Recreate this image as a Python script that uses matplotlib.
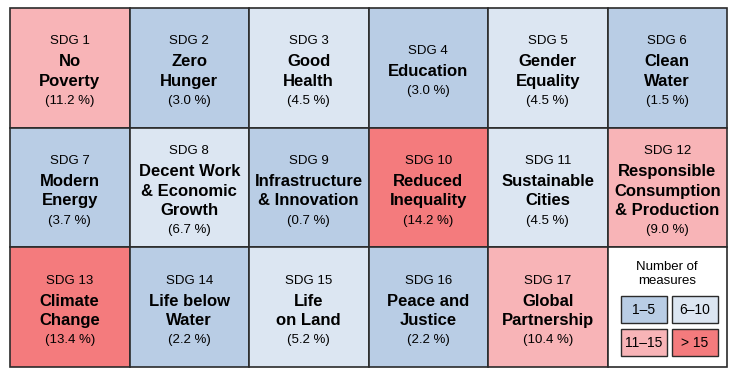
"""SDG measures grid: share of measures per Sustainable Development Goal."""
import matplotlib.pyplot as plt
from matplotlib.patches import Rectangle

plt.rcParams["font.family"] = ["Liberation Sans", "DejaVu Sans"]

SDG_NUMBERS = list(range(1, 18))
SDG_TITLES = [
    "No\nPoverty", "Zero\nHunger", "Good\nHealth", "Education",
    "Gender\nEquality", "Clean\nWater", "Modern\nEnergy",
    "Decent Work\n& Economic\nGrowth", "Infrastructure\n& Innovation",
    "Reduced\nInequality", "Sustainable\nCities",
    "Responsible\nConsumption\n& Production", "Climate\nChange",
    "Life below\nWater", "Life\non Land", "Peace and\nJustice", "Global\nPartnership",
]
MEASURES = [15, 4, 6, 4, 6, 2, 5, 9, 1, 19, 6, 12, 18, 3, 7, 3, 14]
PERCENT = [11.2, 3.0, 4.5, 3.0, 4.5, 1.5, 3.7, 6.7, 0.7, 14.2, 4.5, 9.0,
           13.4, 2.2, 5.2, 2.2, 10.4]

BIN_LABELS = ["1–5", "6–10", "11–15", "> 15"]
BIN_UPPER = [5, 10, 15, 999]
BIN_COLORS = ["#b9cde5", "#dce6f2", "#f8b4b7", "#f47b7d"]
EDGE = "#2b2b2b"

X0, Y0 = 10, 8
CW, CH = 119.5, 119.7
NCOL = 6


def bin_index(n):
    for i, up in enumerate(BIN_UPPER):
        if n <= up:
            return i
    return len(BIN_UPPER) - 1


fig = plt.figure(figsize=(7.34, 3.74), dpi=100)
ax = fig.add_axes([0, 0, 1, 1])
ax.set_xlim(0, 734)
ax.set_ylim(374, 0)
ax.axis("off")

line_h = 19.3
for k, (num, title, n, pct) in enumerate(zip(SDG_NUMBERS, SDG_TITLES, MEASURES, PERCENT)):
    r, c = divmod(k, NCOL)
    x, y = X0 + c * CW, Y0 + r * CH
    ax.add_patch(Rectangle((x, y), CW, CH, facecolor=BIN_COLORS[bin_index(n)],
                           edgecolor=EDGE, linewidth=1.2))
    title_lines = title.split("\n")
    nlines = len(title_lines) + 2
    cx = x + CW / 2
    top = y + CH / 2 - (nlines - 1) * line_h / 2 + 2.5
    ax.text(cx, top, f"SDG {num}", ha="center", va="center", fontsize=9.5)
    for j, tl in enumerate(title_lines):
        ax.text(cx, top + (j + 1) * line_h + 1, tl, ha="center", va="center",
                fontsize=12, fontweight="bold")
    ax.text(cx, top + (nlines - 1) * line_h + 1.5, f"({pct:.1f} %)",
            ha="center", va="center", fontsize=9.5)

# legend cell
lx, ly = X0 + 5 * CW, Y0 + 2 * CH
ax.add_patch(Rectangle((lx, ly), CW, CH, facecolor="white", edgecolor=EDGE,
                       linewidth=1.2))
ax.text(lx + CW / 2, ly + 27, "Number of\nmeasures", ha="center", va="center",
        fontsize=9.5, linespacing=1.2)
box_w, box_h = 46, 27
for i, (lab, col) in enumerate(zip(BIN_LABELS, BIN_COLORS)):
    bx = lx + 13.5 + (i % 2) * 51
    by = ly + 49 + (i // 2) * 33
    ax.add_patch(Rectangle((bx, by), box_w, box_h, facecolor=col,
                           edgecolor=EDGE, linewidth=1.0))
    ax.text(bx + box_w / 2, by + box_h / 2 + 0.5, lab, ha="center",
            va="center", fontsize=10)

fig.savefig("out.png", dpi=100)
